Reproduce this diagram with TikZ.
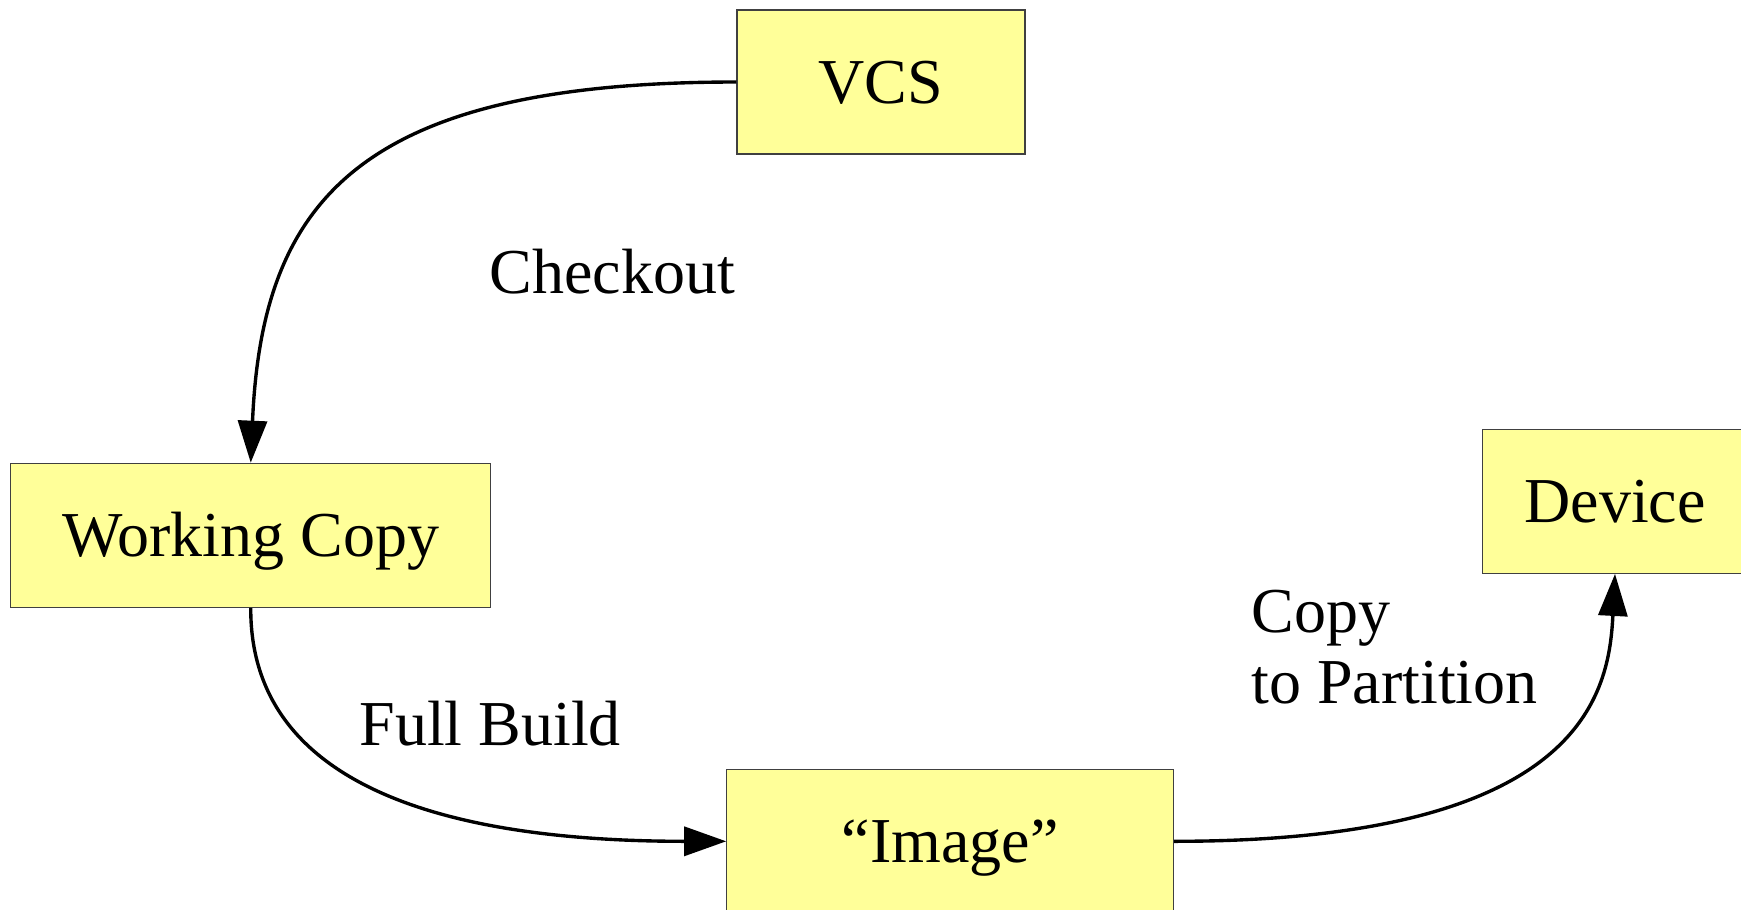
\documentclass[tikz,border=0pt]{standalone}
\usepackage{fontspec}
\setmainfont{Liberation Serif}
\usetikzlibrary{arrows.meta}
\definecolor{boxyellow}{HTML}{FFFF99}
\begin{document}
\begin{tikzpicture}[x=0.4pt,y=-0.4pt,
  box/.style={draw=black!75, line width=0.5pt, fill=boxyellow, minimum height=57.6pt,
    inner sep=0pt, text height=16.9pt, text depth=0pt,
    font=\fontsize{25.6pt}{28.4pt}\selectfont},
  conn/.style={line width=1.35pt, -{Triangle[length=16.8pt,width=11.6pt]}},
  lbl/.style={anchor=base west, inner sep=0pt, font=\fontsize{25.6pt}{28.4pt}\selectfont}]
\useasboundingbox (0,0) rectangle (1741,909);
\clip (0,0) rectangle (1741,909);
\node[box, minimum width=115.2pt] (vcs) at (881,82) {VCS};
\node[box, minimum width=192pt] (wc) at (250.75,535.3) {Working Copy};
\node[box, minimum width=178.7pt] (img) at (950.2,841.3) {“Image”};
\node[box, minimum width=106.3pt] (dev) at (1615,501.3) {Device};
\draw[conn] (vcs.west) .. controls (360,82) and (262,200) .. (wc.north);
\draw[conn] (wc.south) .. controls (250,772) and (417,841.3) .. (img.west);
\draw[conn] (img.east) .. controls (1585,841.3) and (1609,692) .. (dev.south);
\node[lbl] (checkout) at (489,293.3) {Checkout};
\node[lbl] (fullbuild) at (359,745.7) {Full Build};
\node[lbl, align=left] (copy) at (1251,703.3) {Copy\\to Partition};
\end{tikzpicture}
\end{document}
